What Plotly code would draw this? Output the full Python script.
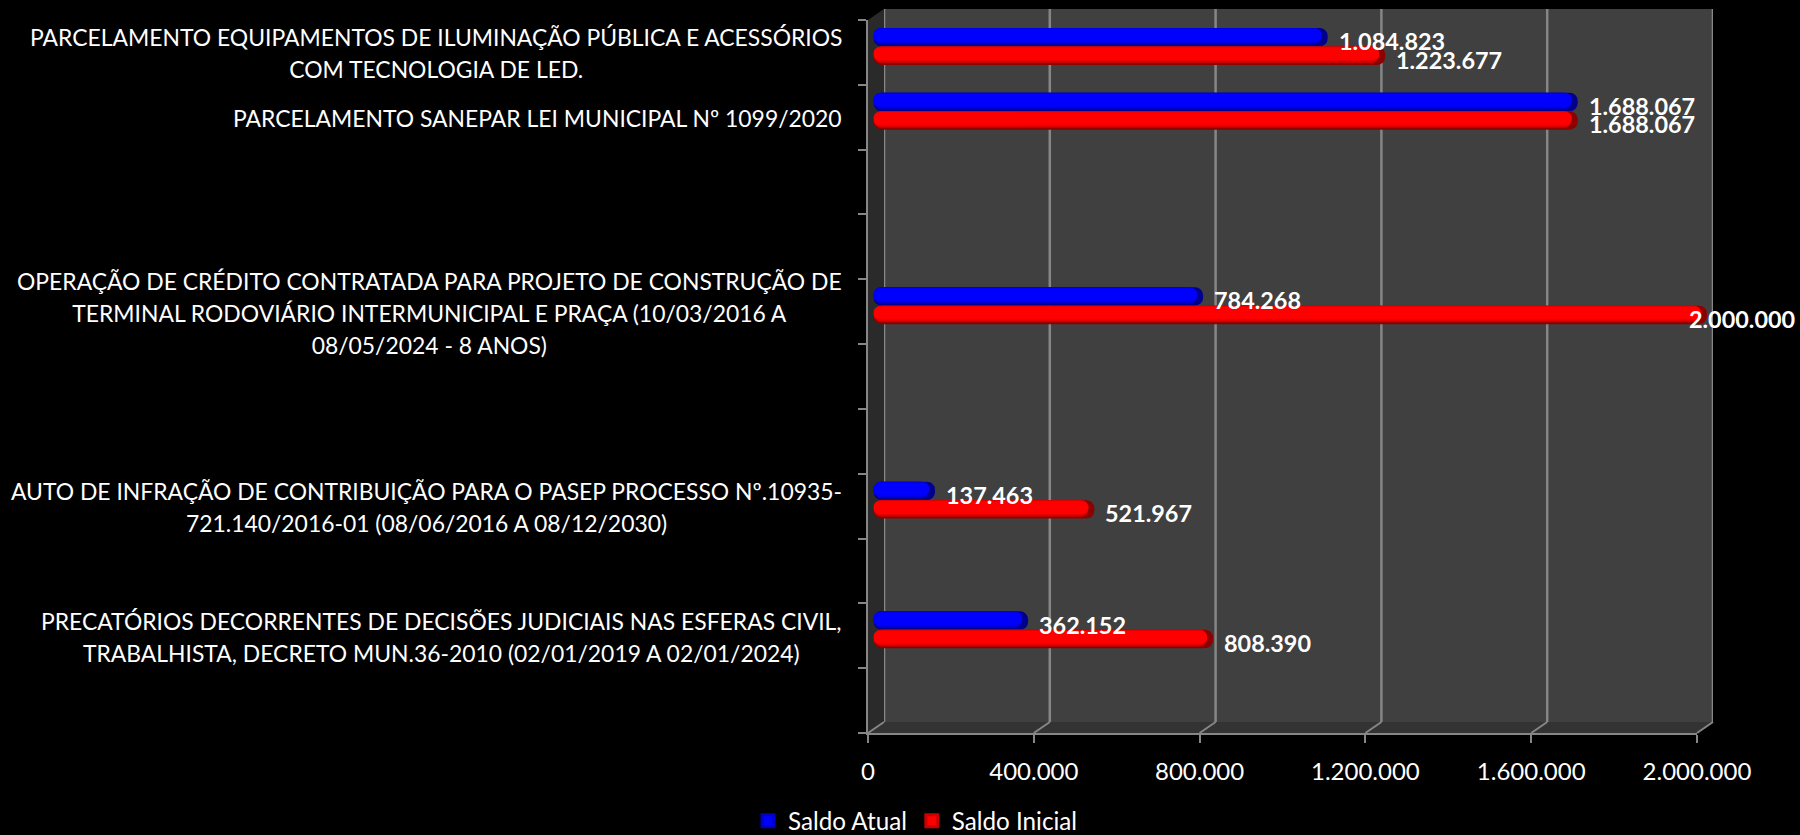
import plotly.graph_objects as go

categorias = [
    "PARCELAMENTO EQUIPAMENTOS DE ILUMINAÇÃO PÚBLICA E ACESSÓRIOS<br>COM TECNOLOGIA DE LED.",
    "PARCELAMENTO SANEPAR LEI MUNICIPAL Nº 1099/2020",
    "",
    "",
    "OPERAÇÃO DE CRÉDITO CONTRATADA PARA PROJETO DE CONSTRUÇÃO DE<br>TERMINAL RODOVIÁRIO INTERMUNICIPAL E PRAÇA (10/03/2016 A<br>08/05/2024 - 8 ANOS)",
    "",
    "",
    "AUTO DE INFRAÇÃO DE CONTRIBUIÇÃO PARA O PASEP PROCESSO Nº.10935-<br>721.140/2016-01 (08/06/2016 A 08/12/2030)",
    "",
    "PRECATÓRIOS DECORRENTES DE DECISÕES JUDICIAIS NAS ESFERAS CIVIL,<br>TRABALHISTA, DECRETO MUN.36-2010 (02/01/2019 A 02/01/2024)",
    "",
]
saldo_atual = [1084823, 1688067, None, None, 784268, None, None, 137463, None, 362152, None]
saldo_inicial = [1223677, 1688067, None, None, 2000000, None, None, 521967, None, 808390, None]
ticks_x = [0, 400000, 800000, 1200000, 1600000, 2000000]

W, H = 1800, 835
FONTE = "Lato, sans-serif"
CINZA = "#868686"

# caixa frontal do grafico em pixels, o fundo e as barras ficam deslocados dela
X0, X1, Y0, Y1 = 868, 1697, 20, 733
FUNDO_DX, FUNDO_DY = 16, -11
BARRA_DX, BARRA_DY = 10, -6
ESPESSURA = 0.285
UNID_PX = 2000000 / (X1 - X0)  # unidades do eixo por pixel
TAMPA = 6 * UNID_PX  # largura da tampa do cilindro
RECUO_PX = 4.5
RECUO = RECUO_PX * UNID_PX  # o cilindro comeca um pouco antes do zero


def px(x):
    return x / W


def py(y):
    return 1 - y / H


def dominio(dx, dy):
    return [px(X0 + dx), px(X1 + dx)], [py(Y1 + dy), py(Y0 + dy)]


def faixa(nome, valores, cores, inicio):
    # cilindro feito de camadas: base escura e faixas cada vez mais claras
    y = list(range(len(valores)))
    cheio = [v + RECUO if v is not None else None for v in valores]
    curto = [v + RECUO - TAMPA if v is not None else None for v in valores]
    camadas = [
        (cheio, cores[0], inicio, ESPESSURA),
        (curto, cores[1], inicio, ESPESSURA * 0.90),
        (curto, cores[2], inicio, ESPESSURA * 0.82),
        (curto, cores[3], inicio + ESPESSURA * 0.06, ESPESSURA * 0.68),
    ]
    saida = []
    for vals, cor, off, larg in camadas:
        saida.append(go.Bar(
            x=vals, y=y, base=-RECUO, orientation="h", name=nome, xaxis="x3", yaxis="y3",
            marker=dict(color=cor, line=dict(width=0), cornerradius=8),
            offset=off, width=larg, showlegend=False, hoverinfo="skip",
        ))
    # entrada so para a legenda, com quadrado maior
    saida.append(go.Bar(x=[None], y=[None], name=nome, orientation="h", xaxis="x3", yaxis="y3",
                        marker=dict(color=cores[3], line=dict(color=cores[1], width=3))))
    return saida


fig = go.Figure()
fig.add_trace(go.Scatter(x=[None], y=[None], xaxis="x", yaxis="y", showlegend=False))
fig.add_trace(go.Scatter(x=[None], y=[None], xaxis="x2", yaxis="y2", showlegend=False))
for t in faixa("Saldo Atual", saldo_atual, ["#00008c", "#0000c4", "#0000e4", "#0000ff"], -ESPESSURA):
    fig.add_trace(t)
for t in faixa("Saldo Inicial", saldo_inicial, ["#8c0000", "#c80000", "#e80000", "#ff0000"], 0):
    fig.add_trace(t)

# paredes da caixa 3D
shapes = [
    dict(type="rect", xref="paper", yref="paper", layer="below", line_width=0, fillcolor="#404040",
         x0=px(X0 + FUNDO_DX), x1=px(X1 + FUNDO_DX), y0=py(Y1 + FUNDO_DY), y1=py(Y0 + FUNDO_DY)),
    dict(type="path", xref="paper", yref="paper", layer="below", line_width=0, fillcolor="#2a2a2a",
         path=f"M {px(X0)} {py(Y0)} L {px(X0 + FUNDO_DX)} {py(Y0 + FUNDO_DY)} "
              f"L {px(X0 + FUNDO_DX)} {py(Y1 + FUNDO_DY)} L {px(X0)} {py(Y1)} Z"),
    dict(type="path", xref="paper", yref="paper", layer="below", line_width=0, fillcolor="#333333",
         path=f"M {px(X0)} {py(Y1)} L {px(X0 + FUNDO_DX)} {py(Y1 + FUNDO_DY)} "
              f"L {px(X1 + FUNDO_DX)} {py(Y1 + FUNDO_DY)} L {px(X1)} {py(Y1)} Z"),
]
for v in ticks_x:
    # linha de grade no fundo (inclui as pontas, que o plotly corta)
    shapes.append(dict(type="line", xref="x", yref="y domain", layer="below",
                       line=dict(color=CINZA, width=2.5), x0=v, x1=v, y0=0, y1=1))
    xt = X0 + (X1 - X0) * v / ticks_x[-1]
    shapes.append(dict(type="line", xref="paper", yref="paper", line=dict(color=CINZA, width=2),
                       x0=px(xt), x1=px(xt + FUNDO_DX), y0=py(Y1), y1=py(Y1 + FUNDO_DY)))

annotations = []
for i, texto in enumerate(categorias):
    if texto:
        # fonte da anotacao maior so para abrir a entrelinha
        linhas = [f'<span style="font-size:22.9px">{t}</span>' for t in texto.split("<br>")]
        annotations.append(dict(x=0, y=i, xref="x2", yref="y2", text="<br>".join(linhas), showarrow=False,
                                xanchor="right", align="center", xshift=-24, yshift=-1,
                                font=dict(family=FONTE, size=24.6, color="white")))


def rotulo(v):
    return f"{v:,}".replace(",", ".")


for valores, centro in ((saldo_atual, -ESPESSURA / 2), (saldo_inicial, ESPESSURA / 2)):
    for i, v in enumerate(valores):
        if v is None:
            continue
        # o rotulo de 2.000.000 entra sobre a barra, como no original
        desloc = -20 if v == ticks_x[-1] else 9
        annotations.append(dict(x=v, y=i + centro, xref="x3", yref="y3", text=f"<b>{rotulo(v)}</b>",
                                showarrow=False, xanchor="left", xshift=desloc, yshift=-4,
                                font=dict(family=FONTE, size=23.4, color="white")))

xd, yd = dominio(FUNDO_DX, FUNDO_DY)
xd2, yd2 = dominio(0, 0)
xd3, yd3 = dominio(BARRA_DX, BARRA_DY)
xd3[0] = px(X0 + BARRA_DX - RECUO_PX)
faixa_y = [len(categorias) - 0.5, -0.5]
ticks_y = [i - 0.5 for i in range(len(categorias) + 1)]

fig.update_layout(
    width=W, height=H, autosize=False,
    margin=dict(l=0, r=0, t=0, b=0, autoexpand=False),
    paper_bgcolor="black", plot_bgcolor="rgba(0,0,0,0)",
    font=dict(family=FONTE, size=22, color="white"),
    separators=",.",
    barmode="overlay",
    shapes=shapes, annotations=annotations,
    xaxis=dict(domain=xd, anchor="y", range=[0, ticks_x[-1]], tickvals=ticks_x, showticklabels=False,
               showgrid=False, zeroline=False, ticks=""),
    yaxis=dict(domain=yd, anchor="x", range=faixa_y, showticklabels=False, showgrid=False,
               zeroline=False, ticks=""),
    xaxis2=dict(domain=xd2, anchor="y2", range=[0, ticks_x[-1]], tickvals=ticks_x, tickformat=",d",
                showgrid=False, zeroline=False, showline=True, linecolor=CINZA, linewidth=2,
                ticks="outside", ticklen=8, tickwidth=2, tickcolor=CINZA, ticklabelstandoff=8,
                tickfont=dict(family=FONTE, size=24, color="white")),
    yaxis2=dict(domain=yd2, anchor="x2", range=faixa_y, tickvals=ticks_y, showticklabels=False,
                showgrid=False, zeroline=False, showline=True, linecolor=CINZA, linewidth=2,
                ticks="outside", ticklen=8, tickwidth=2, tickcolor=CINZA),
    xaxis3=dict(domain=xd3, anchor="y3", range=[-RECUO, ticks_x[-1]], visible=False),
    yaxis3=dict(domain=yd3, anchor="x3", range=faixa_y, visible=False),
    showlegend=True,
    legend=dict(orientation="h", x=px(915), xanchor="center", y=py(821), yanchor="middle",
                font=dict(family=FONTE, size=24.2, color="white"), bgcolor="rgba(0,0,0,0)",
                traceorder="normal"),
)

fig.write_html("out.html", config=dict(displayModeBar=False),
               post_script="document.body.style.margin='0';")
